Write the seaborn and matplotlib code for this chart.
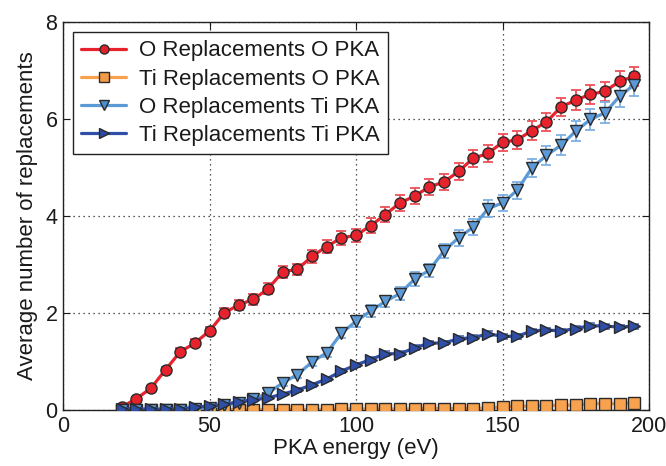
import numpy as np
import pandas as pd
import matplotlib
matplotlib.use("Agg")
import matplotlib.pyplot as plt
import seaborn as sns

energy = list(range(20, 200, 5))

o_rep_o_pka = [0.06, 0.23, 0.45, 0.83, 1.20, 1.38, 1.63, 2.00, 2.17, 2.28, 2.50, 2.85,
               2.90, 3.17, 3.37, 3.55, 3.60, 3.80, 4.03, 4.27, 4.41, 4.60, 4.70, 4.92,
               5.19, 5.29, 5.52, 5.57, 5.76, 5.94, 6.25, 6.39, 6.51, 6.57, 6.78, 6.88]
o_rep_o_err = [0.03, 0.04, 0.05, 0.06, 0.07, 0.08, 0.09, 0.10, 0.10, 0.11, 0.11, 0.12,
               0.12, 0.13, 0.13, 0.14, 0.14, 0.15, 0.15, 0.16, 0.16, 0.16, 0.17, 0.17,
               0.17, 0.18, 0.18, 0.18, 0.19, 0.19, 0.19, 0.20, 0.20, 0.20, 0.20, 0.20]

ti_rep_o_pka = [0.00, 0.00, 0.00, 0.00, 0.01, 0.01, 0.01, 0.01, 0.01, 0.01, 0.01, 0.01,
                0.01, 0.01, 0.01, 0.02, 0.02, 0.02, 0.02, 0.02, 0.02, 0.03, 0.03, 0.03,
                0.03, 0.04, 0.06, 0.08, 0.08, 0.09, 0.10, 0.10, 0.13, 0.13, 0.13, 0.15]
ti_rep_o_err = [0.01, 0.01, 0.01, 0.01, 0.01, 0.01, 0.01, 0.01, 0.01, 0.01, 0.01, 0.01,
                0.01, 0.01, 0.01, 0.01, 0.01, 0.01, 0.01, 0.01, 0.02, 0.02, 0.02, 0.02,
                0.02, 0.02, 0.02, 0.02, 0.03, 0.03, 0.03, 0.03, 0.03, 0.03, 0.03, 0.03]

o_rep_ti_pka = [0.00, 0.00, 0.00, 0.00, 0.01, 0.02, 0.05, 0.10, 0.15, 0.22, 0.35, 0.56,
                0.73, 0.99, 1.18, 1.58, 1.83, 2.04, 2.24, 2.40, 2.70, 2.88, 3.28, 3.55,
                3.77, 4.15, 4.27, 4.53, 4.99, 5.25, 5.46, 5.75, 5.99, 6.13, 6.47, 6.71]
o_rep_ti_err = [0.01, 0.01, 0.01, 0.01, 0.01, 0.02, 0.02, 0.03, 0.04, 0.05, 0.06, 0.07,
                0.08, 0.09, 0.09, 0.10, 0.11, 0.12, 0.12, 0.13, 0.14, 0.14, 0.15, 0.16,
                0.16, 0.17, 0.17, 0.18, 0.19, 0.19, 0.20, 0.21, 0.22, 0.22, 0.23, 0.24]

ti_rep_ti_pka = [0.03, 0.02, 0.02, 0.02, 0.02, 0.06, 0.08, 0.12, 0.17, 0.21, 0.25, 0.33,
                 0.41, 0.52, 0.64, 0.80, 0.93, 1.04, 1.16, 1.16, 1.28, 1.38, 1.38, 1.47,
                 1.49, 1.57, 1.52, 1.52, 1.63, 1.65, 1.63, 1.68, 1.74, 1.73, 1.71, 1.73]
ti_rep_ti_err = [0.01, 0.01, 0.01, 0.01, 0.01, 0.02, 0.02, 0.02, 0.03, 0.03, 0.03, 0.03,
                 0.04, 0.04, 0.04, 0.04, 0.04, 0.05, 0.05, 0.05, 0.05, 0.05, 0.05, 0.05,
                 0.05, 0.05, 0.05, 0.05, 0.05, 0.05, 0.05, 0.05, 0.05, 0.05, 0.05, 0.05]

series_names = ["O Replacements O PKA", "Ti Replacements O PKA",
                "O Replacements Ti PKA", "Ti Replacements Ti PKA"]
series_vals = [o_rep_o_pka, ti_rep_o_pka, o_rep_ti_pka, ti_rep_ti_pka]
series_errs = [o_rep_o_err, ti_rep_o_err, o_rep_ti_err, ti_rep_ti_err]
line_colors = ["#e8222c", "#f7a24e", "#5b9ad6", "#2f4ea6"]
face_colors = ["#e3202a", "#f39a45", "#4b8fd0", "#2b4aa2"]
err_colors = ["#ee5058", "#f7b070", "#7eb0e0", "#5a75bd"]
markers = ["o", "s", "v", ">"]

rows = []
for name, vals in zip(series_names, series_vals):
    for e, v in zip(energy, vals):
        rows.append({"energy": e, "value": v, "series": name})
df = pd.DataFrame(rows)

sns.set_theme(style="white")
plt.rcParams["font.family"] = ["Liberation Sans", "DejaVu Sans"]
plt.rcParams["text.color"] = "#1a1a1a"
plt.rcParams["axes.labelcolor"] = "#1a1a1a"
plt.rcParams["xtick.color"] = "#1a1a1a"
plt.rcParams["ytick.color"] = "#1a1a1a"

fig = plt.figure(figsize=(6.66, 4.66), dpi=100)
ax = fig.add_axes([63 / 666, 1 - 410 / 466, (649 - 63) / 666, (410 - 22) / 466])

for name, vals, errs, ec in zip(series_names, series_vals, series_errs, err_colors):
    ax.errorbar(energy, vals, yerr=errs, fmt="none", ecolor=ec, elinewidth=1.3,
                capsize=3.5, capthick=1.3, zorder=2)

palette = dict(zip(series_names, line_colors))
sns.lineplot(data=df, x="energy", y="value", hue="series", hue_order=series_names,
             palette=palette, style="series", style_order=series_names,
             markers=dict(zip(series_names, markers)), dashes=False,
             linewidth=2.3, markersize=8, markeredgecolor="#2a2a2a",
             markeredgewidth=1.0, ax=ax, zorder=3, legend=True)

for line, fc in zip(ax.get_lines()[-4:], face_colors):
    line.set_markerfacecolor(fc)

fs = 16
ax.set_xlim(0, 200)
ax.set_ylim(0, 8)
ax.set_xticks([0, 50, 100, 150, 200])
ax.set_yticks([0, 2, 4, 6, 8])
ax.set_xlabel("PKA energy (eV)", fontsize=fs, labelpad=1)
ax.set_ylabel("Average number of replacements", fontsize=fs, labelpad=5)
ax.tick_params(direction="in", length=5, width=0.8, labelsize=15.5,
               top=True, right=True, bottom=True, left=True, pad=4)
ax.grid(True, linestyle=(0, (1, 3)), color="#222222", linewidth=0.9)
for sp in ax.spines.values():
    sp.set_color("#222222")
    sp.set_linewidth(1.0)

handles, labels = ax.get_legend_handles_labels()
for h, fc in zip(handles, face_colors):
    h.set_markerfacecolor(fc)
    h.set_markeredgecolor("#2a2a2a")
    h.set_markersize(6.5)
leg = ax.legend(handles, labels, loc="upper left", fontsize=fs, frameon=True,
                fancybox=False, framealpha=1, edgecolor="#222222",
                borderaxespad=0.45, handlelength=2.0, handletextpad=0.6,
                labelspacing=0.32, borderpad=0.38)
leg.get_frame().set_linewidth(1.0)

fig.savefig("out.png", dpi=100)
